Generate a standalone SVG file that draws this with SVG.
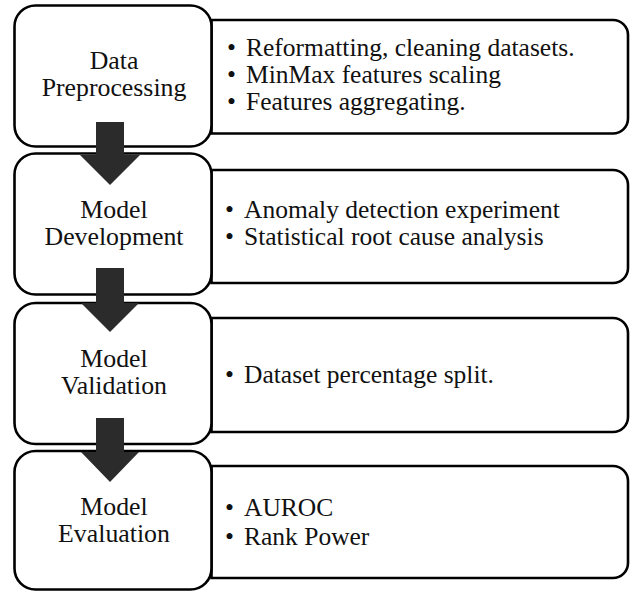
<svg xmlns="http://www.w3.org/2000/svg" width="637" height="592" viewBox="0 0 637 592">
<style>
.box{fill:#fff;stroke:#000;stroke-width:2.6}
.t{font-family:"Liberation Serif","Times New Roman",serif;font-size:25.5px;fill:#111}
.c{text-anchor:middle;font-size:25.8px}
.arrow{fill:#2b2b2b}
</style>
<rect width="637" height="592" fill="#fff"/>
<g id="detail1">
<path class="box" d="M211.5,20 H613 A15,15 0 0 1 628,35 V118.5 A15,15 0 0 1 613,133.5 H211.5 Z"/>
<text class="t" x="227" y="56">•</text><text class="t" x="246" y="56">Reformatting, cleaning datasets.</text>
<text class="t" x="227" y="83">•</text><text class="t" x="246" y="83">MinMax features scaling</text>
<text class="t" x="227" y="110">•</text><text class="t" x="246" y="110">Features aggregating.</text>
</g>
<g id="detail2">
<path class="box" d="M211.5,170 H613 A15,15 0 0 1 628,185 V268 A15,15 0 0 1 613,283 H211.5 Z"/>
<text class="t" x="225" y="218">•</text><text class="t" x="244" y="218">Anomaly detection experiment</text>
<text class="t" x="225" y="245">•</text><text class="t" x="244" y="245">Statistical root cause analysis</text>
</g>
<g id="detail3">
<path class="box" d="M211.5,318 H613 A15,15 0 0 1 628,333 V417 A15,15 0 0 1 613,432 H211.5 Z"/>
<text class="t" x="225" y="383">•</text><text class="t" x="244" y="383">Dataset percentage split.</text>
</g>
<g id="detail4">
<path class="box" d="M211.5,466 H613 A15,15 0 0 1 628,481 V563 A15,15 0 0 1 613,578 H211.5 Z"/>
<text class="t" x="225" y="516">•</text><text class="t" x="244" y="516">AUROC</text>
<text class="t" x="225" y="545">•</text><text class="t" x="244" y="545">Rank Power</text>
</g>
<g id="step1">
<rect class="box" x="14.5" y="5.5" width="197" height="141" rx="21"/>
<text class="t c"><tspan x="114" y="69">Data</tspan><tspan x="114" y="96">Preprocessing</tspan></text>
</g>
<g id="step2">
<rect class="box" x="14.5" y="153.5" width="197" height="141" rx="21"/>
<text class="t c"><tspan x="114" y="218">Model</tspan><tspan x="114" y="245">Development</tspan></text>
</g>
<g id="step3">
<rect class="box" x="14.5" y="303" width="197" height="141" rx="21"/>
<text class="t c"><tspan x="114" y="367">Model</tspan><tspan x="114" y="394">Validation</tspan></text>
</g>
<g id="step4">
<rect class="box" x="14.5" y="451" width="197" height="138.5" rx="21"/>
<text class="t c"><tspan x="114" y="515">Model</tspan><tspan x="114" y="542">Evaluation</tspan></text>
</g>
<g id="connectors">
<path class="arrow" d="M96,122 H124 V155 H140 L110,185 L80,155 H96 Z"/>
<path class="arrow" d="M96,268 H124 V303 H139 L110,332 L81,303 H96 Z"/>
<path class="arrow" d="M96,418 H124 V452 H139 L110,482 L81,452 H96 Z"/>
</g>
</svg>
